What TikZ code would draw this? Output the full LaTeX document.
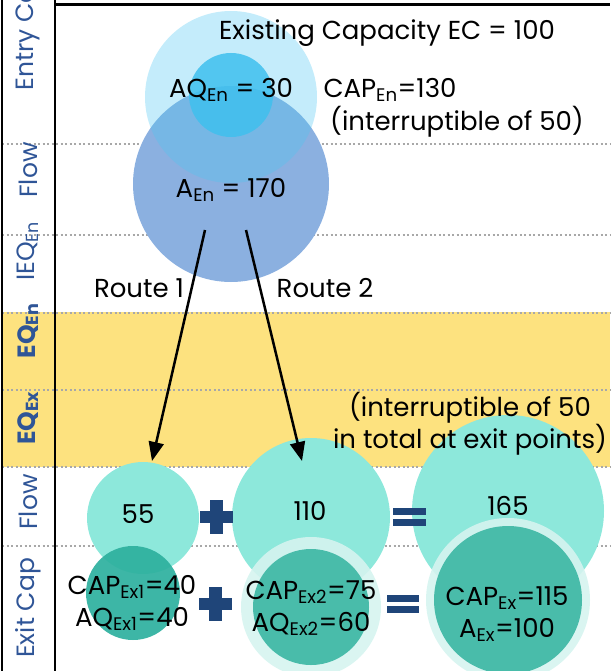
\documentclass[tikz,border=0pt]{standalone}
\usepackage{fontspec}
\setmainfont{Poppins}
\usepackage{xcolor}
\usetikzlibrary{arrows.meta}
\definecolor{capblue}{HTML}{4CC6F2}
\definecolor{aqblue}{HTML}{3FC0EE}
\definecolor{flowblue}{HTML}{8BB0E0}
\definecolor{flowteal}{HTML}{8DE8DB}
\definecolor{exteal}{HTML}{2DB09E}
\definecolor{capteal}{HTML}{49BCAA}
\definecolor{ringteal}{HTML}{D6F4F0}
\definecolor{band}{HTML}{FDE27F}
\definecolor{rowline}{HTML}{A8A8A8}
\definecolor{labblue}{HTML}{2F5597}
\definecolor{signblue}{HTML}{1F4579}

\begin{document}
\begin{tikzpicture}[x=1pt,y=-1pt,
    txt/.style={font=\fontsize{26}{32}\selectfont, inner sep=0pt, align=center},
    lab/.style={rotate=90, inner sep=0pt, text=labblue, font=\fontsize{25}{28}\selectfont},
    ball/.style={circle, inner sep=0pt, minimum size=#1},
    dots/.style={rowline, line width=2pt, dash pattern=on 2pt off 2.5pt},
    route/.style={line width=2.5pt, -{Triangle[length=19pt,width=15pt]}}]
              \useasboundingbox (0,0) rectangle (610,671);
              \fill[band] (2,312) rectangle (610,467);
              \draw[dots] (2,144) -- (610,144);
              \draw[dots] (2,235) -- (610,235);
              \draw[dots] (2,313) -- (610,313);
              \draw[dots] (2,390) -- (610,390);
              \draw[dots] (2,467) -- (610,467);
              \draw[dots] (2,546) -- (610,546);

              \node[ball=196, fill=flowblue] (AEn) at (231,184) {};
              \node[ball=172, fill=capblue, fill opacity=0.33] (EC) at (231,97) {};
              \node[ball=84, fill=aqblue, fill opacity=0.85] (AQEn) at (231,95) {};

              \node[ball=112, fill=flowteal] (F1) at (143,518) {};
              \node[ball=158, fill=flowteal] (F2) at (311,517) {};
              \node[ball=192, fill=flowteal] (F3) at (508,511) {};

              \node[ball=94, fill=exteal, fill opacity=0.92] (X1) at (133,593) {};
              \node[ball=140, fill=ringteal, fill opacity=0.9] (X2r) at (311,607) {};
              \node[ball=116, fill=capteal] (X2) at (311,607) {};
              \node[ball=164, fill=ringteal, fill opacity=0.9] (X3r) at (508,600) {};
              \node[ball=148, fill=capteal] (X3) at (508,600) {};

              \node[txt] (ECt) at (387,33) {Existing Capacity EC = 100};
              \node[txt] (AQEnt) at (231,90) {AQ\textsubscript{En} = 30};
              \node[txt] (CAPEnt) at (390,90) {CAP\textsubscript{En}=130};
              \node[txt] (IntEn) at (457,122) {(interruptible of 50)};
              \node[txt] (AEnt) at (231,190) {A\textsubscript{En} = 170};
              \node[txt] (R1) at (139,288) {Route 1};
              \node[txt] (R2) at (325,288) {Route 2};
              \node[txt] (IntEx) at (470,424) {(interruptible of 50\\in total at exit points)};

              \node[txt] (F1t) at (138,514) {55};
              \node[txt] (F2t) at (310,511) {110};
              \node[txt] (F3t) at (508,506) {165};
              \node[txt] (X1t) at (132,603) {CAP\textsubscript{Ex1}=40\\AQ\textsubscript{Ex1}=40};
              \node[txt] (X2t) at (311,608) {CAP\textsubscript{Ex2}=75\\AQ\textsubscript{Ex2}=60};
              \node[txt] (X3t) at (507,614) {CAP\textsubscript{Ex}=115\\A\textsubscript{Ex}=100};

              \fill[signblue] (200,511) rectangle (233,523);
              \fill[signblue] (210,500) rectangle (223,534);
              \fill[signblue] (199,598) rectangle (232,610);
              \fill[signblue] (209,587) rectangle (222,621);
              \fill[signblue] (393,508) rectangle (426,515);
              \fill[signblue] (393,519) rectangle (426,526);
              \fill[signblue] (387,595) rectangle (419,602);
              \fill[signblue] (387,606) rectangle (419,613);

              \coordinate (R1a) at (205,230);
              \coordinate (R1b) at (152,461);
              \coordinate (R2a) at (246,230);
              \coordinate (R2b) at (302,461);
              \draw[route] (R1a) -- (R1b);
              \draw[route] (R2a) -- (R2b);

              \node[lab, anchor=west] (L1) at (28,91) {Entry Cap};
              \node[lab] (L2) at (28,170) {Flow};
              \node[lab] (L3) at (28,251) {IEQ\textsubscript{En}};
              \node[lab, font=\fontsize{25}{28}\bfseries] (L4) at (28,331) {EQ\textsubscript{En}};
              \node[lab, font=\fontsize{25}{28}\bfseries] (L5) at (28,418) {EQ\textsubscript{Ex}};
              \node[lab] (L6) at (28,502) {Flow};
              \node[lab] (L7) at (28,608) {Exit Cap};

              \draw[line width=2.5pt] (2,0) -- (2,671);
              \draw[line width=2pt] (55,0) -- (55,671);
              \draw[line width=3pt] (55,5) -- (610,5);
          \end{tikzpicture}
\end{document}
